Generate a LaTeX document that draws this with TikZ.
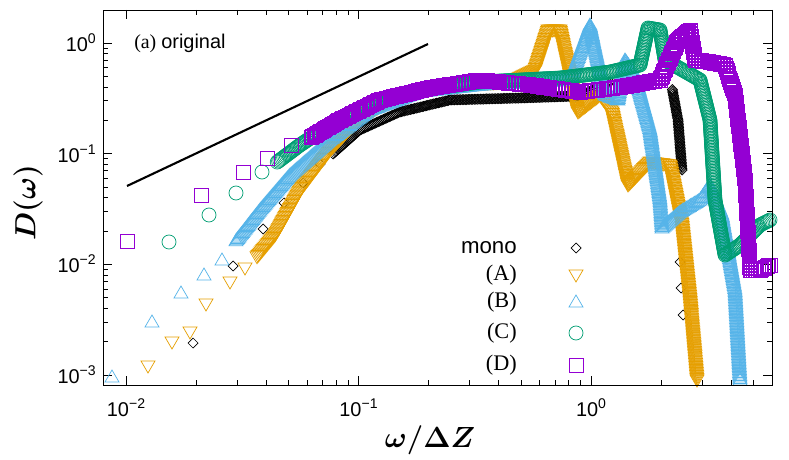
\documentclass[tikz,border=0pt]{standalone}
\usepackage{amsmath,bm}
\usepackage{fontspec}
\setmainfont{Liberation Serif}
\setsansfont{Liberation Sans}
\definecolor{cA}{HTML}{E69F00}
\definecolor{cB}{HTML}{56B4E9}
\definecolor{cC}{HTML}{009E73}
\definecolor{cD}{HTML}{9400D3}
\newcommand\myband[2]{%
 \foreach \x/\y [remember=\x as \px (initially 0), remember=\y as \py (initially 0), count=\i] in {#2}{%
  \ifnum\i>1
   \pgfmathtruncatemacro\nn{max(1,veclen(\x-\px,\y-\py)/1.5)}%
   \foreach \k in {1,...,\nn}{%
     \pgfmathsetmacro\xx{\px+(\x-\px)*\k/\nn}%
     \pgfmathsetmacro\yy{\py+(\y-\py)*\k/\nn}%
     \pic at (\xx,\yy) {#1};}%
  \fi}}
\newcommand\tlab[1]{\sffamily 10\raisebox{0.75ex}{\fontsize{12}{12}\selectfont #1}}
\begin{document}
\begin{tikzpicture}[x=0.03cm,y=-0.03cm,line width=0.6pt,
  mdia/.pic={\draw[black] (-5,0)--(0,-5)--(5,0)--(0,5)--cycle;},
  mtd/.pic={\draw[cA] (-7,-5)--(7,-5)--(0,7)--cycle;},
  mtu/.pic={\draw[cB] (-7,5)--(7,5)--(0,-7)--cycle;},
  mci/.pic={\draw[cC] (0,0) circle (7);},
  msq/.pic={\draw[cD] (-7,-7) rectangle (7,7);},
  tick/.style={line width=0.5pt},
  tl/.style={font=\fontsize{17}{18}\selectfont}]
\useasboundingbox (0,0) rectangle (789,460);
\fill[white] (0,0) rectangle (789,460);
% ticks
\foreach \o in {126,358.5,591}{
  \foreach \m in {2,...,9}{
    \pgfmathsetmacro\xt{\o+232.5*log10(\m)}
    \ifdim\xt pt<772pt
    \draw[tick] (\xt,385)--++(0,-5) (\xt,10)--++(0,5);\fi
  }}
\foreach \xt in {126,358.5,591}{\draw[tick] (\xt,385)--++(0,-9) (\xt,10)--++(0,9);}
\foreach \o in {375,264.3,153.6,42.9}{
  \foreach \m in {2,...,9}{
    \pgfmathsetmacro\yt{\o-110.7*log10(\m)}
    \ifdim\yt pt>10pt
    \draw[tick] (103,\yt)--++(5,0) (772,\yt)--++(-5,0);\fi
  }
  \draw[tick] (103,\o)--++(9,0) (772,\o)--++(-9,0);}
\node[tl,anchor=east] (t0) at (100,43) {\tlab{0}};
\node[tl,anchor=east] (t1) at (100,154) {\tlab{−1}};
\node[tl,anchor=east] (t2) at (100,264) {\tlab{−2}};
\node[tl,anchor=east] (t3) at (100,375) {\tlab{−3}};
\node[tl] (x2) at (126,408) {\tlab{−2}};
\node[tl] (x1) at (358.5,408) {\tlab{−1}};
\node[tl] (x0) at (591,408) {\tlab{0}};
\node[font=\fontsize{26}{28}\selectfont,rotate=90] (yl) at (28,203) {$\bm{D(\omega)}$};
\node[font=\fontsize{26}{28}\selectfont] (xl) at (430,440) {$\bm{\omega/\Delta Z}$};
\node[font=\fontsize{17}{18}\selectfont,anchor=west] (ttl) at (130,43) {(a) \sffamily original};
% guide line
\draw[line width=1.8pt] (127,186)--(428,44);
% mono
\foreach \p in {(193,343),(233,266),(263,229),(284,203),(303,183),(320,164)} \pic at \p {mdia};
\myband{mdia}{332/155,360/130,400/112,450/100,520/98,580/96,610/82}
\myband{mdia}{672/88,678/120,682/170}
\foreach \p in {(680,262),(681,288),(683,315)} \pic at \p {mdia};
% A
\foreach \p in {(148,366),(172,342),(190,332),(206,304),(230,282),(245,268)} \pic at \p {mtd};
\myband{mtd}{256/258,275/235,300/190,330/150,360/118,400/95,450/85,510/82,535/70,548/30,560/30,578/112,600/95,612/112,628/185,650/162,670/165,682/225,690/300,697/380}
% B
\foreach \p in {(112,377),(152,322),(181,293),(204,275),(222,260)} \pic at \p {mtu};
\myband{mtu}{235/242,260/210,290/175,330/140,370/110,420/92,480/85,540/82,570/80,590/25,605/95,618/100,625/60,635/75,650/130,660/200,662/228,680/212,700/200,710/185,722/215,735/290,740/380}
% C
\foreach \p in {(169,242),(209,215),(236,193),(262,172)} \pic at \p {mci};
\myband{mci}{276/163,300/145,330/125,370/105,420/90,480/82,560/78,610/72,640/65,648/28,660/30,665/60,700/80,710/120,715/200,725/255,740/245,760/225,770/220}
% D
\foreach \p in {(127,241),(201,195),(243,172),(267,158),(291,145)} \pic at \p {msq};
\myband{msq}{310/138,340/120,380/100,430/88,480/80,530/85,580/92,620/87,660/80,678/40,690/30,695/60,710/62,725/65,735/95,745/180,750/270,760/270,770/265}
% legend
\node[font=\fontsize{19}{20}\selectfont,anchor=east] (l0) at (521,248) {\sffamily mono};
\node[font=\fontsize{19}{20}\selectfont,anchor=east] (l1) at (521,275) {(A)};
\node[font=\fontsize{19}{20}\selectfont,anchor=east] (l2) at (521,302) {(B)};
\node[font=\fontsize{19}{20}\selectfont,anchor=east] (l3) at (521,333) {(C)};
\node[font=\fontsize{19}{20}\selectfont,anchor=east] (l4) at (521,365) {(D)};
\pic at (576,248) {mdia};
\pic at (576,275) {mtd};
\pic at (576,302) {mtu};
\pic at (576,333) {mci};
\pic at (576,365) {msq};
% frame
\draw[line width=0.7pt] (103,10) rectangle (772,385);
\end{tikzpicture}
\end{document}
